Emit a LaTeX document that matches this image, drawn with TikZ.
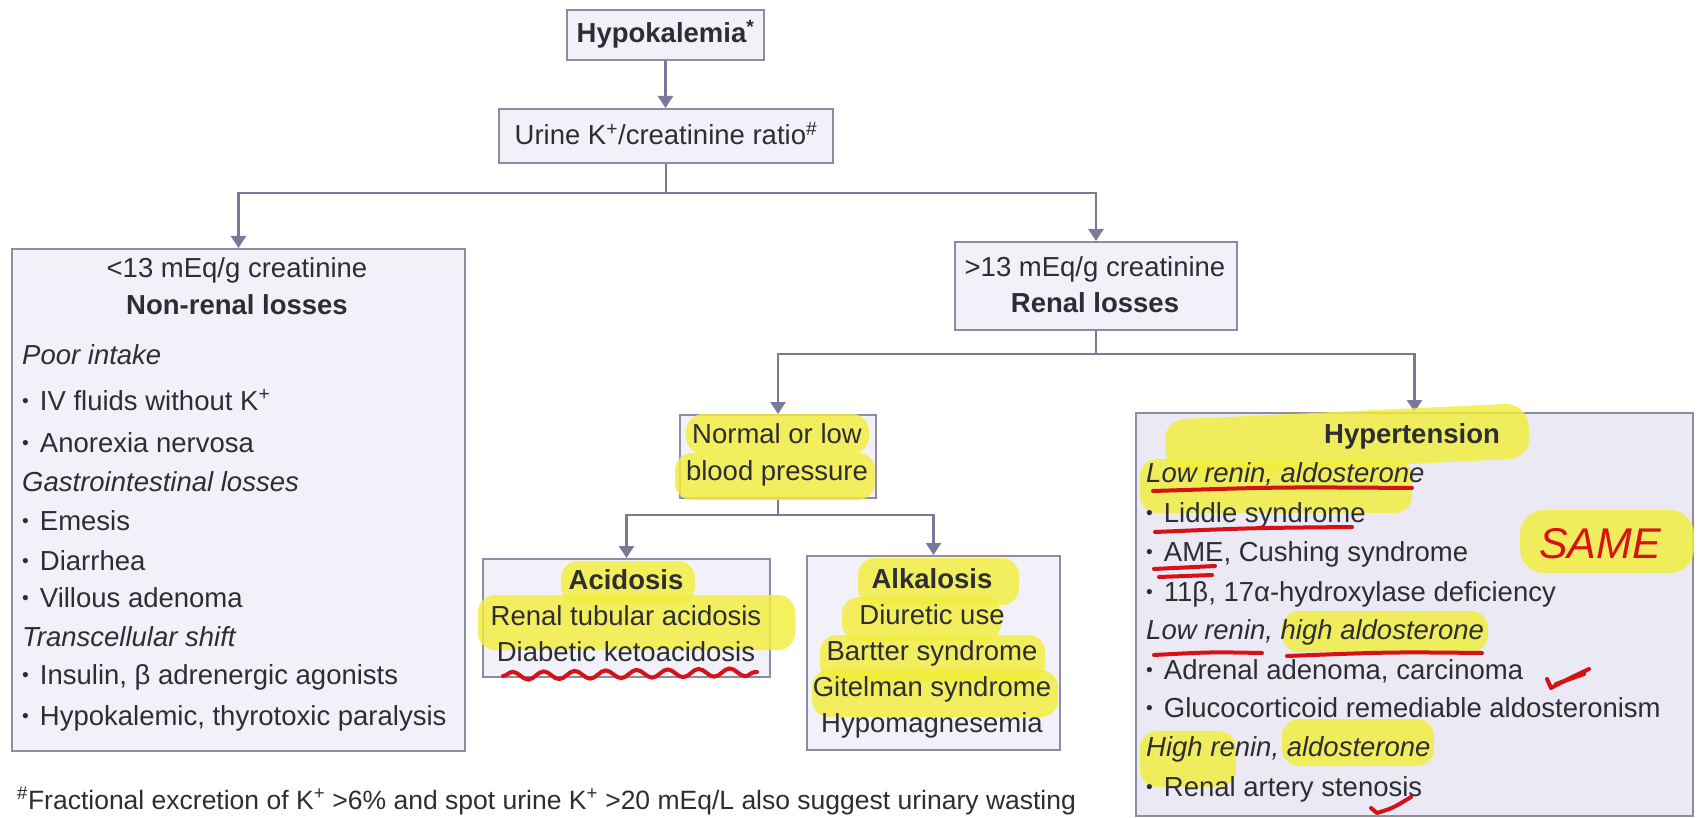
\documentclass[tikz,border=0pt]{standalone}
\usepackage{fontspec}
\setmainfont{Liberation Sans}
\usetikzlibrary{arrows.meta,decorations.pathmorphing}

\definecolor{boxline}{RGB}{140,140,162}
\definecolor{boxfill}{RGB}{242,240,248}
\definecolor{hyfill}{RGB}{235,233,243}
\definecolor{linkcol}{RGB}{122,122,152}
\definecolor{ink}{RGB}{45,45,52}
\definecolor{marker}{RGB}{242,238,60}
\definecolor{pen}{RGB}{214,18,22}

% small list bullet
\newcommand{\dotitem}{\raisebox{2.5pt}{\scalebox{0.7}{•}}\hspace{11pt}}

\begin{document}
\begin{tikzpicture}[x=1pt,y=-1pt,
  box/.style={draw=boxline, fill=boxfill, line width=2pt, inner sep=0pt, anchor=north west},
  link/.style={draw=linkcol, line width=2.6pt},
  conn/.style={link, -{Triangle[width=15pt,length=12pt]}},
  txt/.style={inner sep=0pt, text=ink, font=\fontsize{27.5}{33}\selectfont},
  head/.style={txt, font=\fontsize{27.5}{33}\selectfont\bfseries},
  hl/.style={fill=marker, opacity=0.82, rounded corners=17pt},
  penline/.style={draw=pen, line width=4pt, line cap=round, line join=round}
]
\fill[white] (0,0) rectangle (1703,818);
\useasboundingbox (0,0) rectangle (1703,818);

% ---------- boxes ----------
\node[box, minimum width=197pt, minimum height=50pt] (hypo) at (566,9) {};
\node[box, minimum width=334pt, minimum height=54pt] (urine) at (498,108) {};
\node[box, minimum width=453pt, minimum height=502pt] (nonrenal) at (11,248) {};
\node[box, minimum width=282pt, minimum height=88pt] (renal) at (954,241) {};
\node[box, minimum width=196pt, minimum height=83pt] (normal) at (679,414) {};
\node[box, minimum width=557pt, minimum height=403pt, fill=hyfill] (hyper) at (1135,412) {};
\node[box, minimum width=287pt, minimum height=118pt] (acid) at (482,558) {};
\node[box, minimum width=253pt, minimum height=194pt] (alk) at (806,555) {};

% ---------- connectors ----------
\coordinate (j1) at (urine.south |- 0,193);
\coordinate (j2) at (renal.south |- 0,354);
\coordinate (j3) at (normal.south |- 0,515);
\draw[conn] (hypo.south) -- (hypo.south |- urine.north);
\draw[link] (urine.south) -- (j1);
\draw[conn] (j1) -| (nonrenal.north);
\draw[conn] (j1) -| (renal.north);
\draw[link] (renal.south) -- (j2);
\draw[conn] (j2) -| (normal.north);
\draw[conn] (j2) -| (hyper.north);
\draw[link] (normal.south) -- (j3);
\draw[conn] (j3) -| (acid.north);
\draw[conn] (j3) -| (alk.north);

% ---------- highlighter marks ----------
\fill[hl] (686,414) rectangle (869,454);
\fill[hl] (675,453) rectangle (875,500);
\fill[hl] (561,561) rectangle (695,603);
\fill[hl] (478,595) rectangle (795,650);
\fill[hl] (858,558) rectangle (1019,605);
\fill[hl] (842,597) rectangle (1001,641);
\fill[hl] (820,635) rectangle (1045,682);
\fill[hl] (812,670) rectangle (1058,717);
\fill[hl, rounded corners=22pt] (1163,420) -- (1527,403) -- (1531,458) -- (1168,476) -- cycle;
\fill[hl] (1140,459) rectangle (1412,513);
\fill[hl, rounded corners=24pt] (1520,510) rectangle (1694,573);
\fill[hl] (1282,611) rectangle (1488,652);
\fill[hl] (1140,731) rectangle (1236,787);
\fill[hl] (1282,719) rectangle (1434,766);

% ---------- texts ----------
\node[head, anchor=base] (t0) at (hypo.center |- 0,43) {Hypokalemia\textsuperscript{*}};
\node[txt, anchor=base] (t1) at (urine.center |- 0,145) {Urine K\textsuperscript{+}/creatinine ratio\textsuperscript{\#}};

\node[txt, anchor=base] (n0) at (237,278) {<13 mEq/g creatinine};
\node[head, anchor=base] (n1) at (237,315) {Non-renal losses};
\node[txt, anchor=base west] (n2) at (22,364) {\itshape Poor intake};
\node[txt, anchor=base west] (n3) at (22,410) {\dotitem IV fluids without K\textsuperscript{+}};
\node[txt, anchor=base west] (n4) at (22,452) {\dotitem Anorexia nervosa};
\node[txt, anchor=base west] (n5) at (22,491) {\itshape Gastrointestinal losses};
\node[txt, anchor=base west] (n6) at (22,530) {\dotitem Emesis};
\node[txt, anchor=base west] (n7) at (22,570) {\dotitem Diarrhea};
\node[txt, anchor=base west] (n8) at (22,607) {\dotitem Villous adenoma};
\node[txt, anchor=base west] (n9) at (22,646) {\itshape Transcellular shift};
\node[txt, anchor=base west] (n10) at (22,684) {\dotitem Insulin, β adrenergic agonists};
\node[txt, anchor=base west] (n11) at (22,725) {\dotitem Hypokalemic, thyrotoxic paralysis};

\node[txt, anchor=base] (r0) at (1095,277) {>13 mEq/g creatinine};
\node[head, anchor=base] (r1) at (1095,313) {Renal losses};

\node[txt, anchor=base] (b0) at (777,443) {Normal or low};
\node[txt, anchor=base] (b1) at (777,480) {blood pressure};

\node[head, anchor=base] (a0) at (626,589) {Acidosis};
\node[txt, anchor=base] (a1) at (626,625) {Renal tubular acidosis};
\node[txt, anchor=base] (a2) at (626,661) {Diabetic ketoacidosis};

\node[head, anchor=base] (k0) at (932,588) {Alkalosis};
\node[txt, anchor=base] (k1) at (932,624) {Diuretic use};
\node[txt, anchor=base] (k2) at (932,660) {Bartter syndrome};
\node[txt, anchor=base] (k3) at (932,696) {Gitelman syndrome};
\node[txt, anchor=base] (k4) at (932,732) {Hypomagnesemia};

\node[head, anchor=base] (h0) at (1412,443) {Hypertension};
\node[txt, anchor=base west] (h1) at (1146,482) {\itshape Low renin, aldosterone};
\node[txt, anchor=base west] (h2) at (1146,522) {\dotitem Liddle syndrome};
\node[txt, anchor=base west] (h3) at (1146,561) {\dotitem AME, Cushing syndrome};
\node[txt, anchor=base west] (h4) at (1146,601) {\dotitem 11β, 17α-hydroxylase deficiency};
\node[txt, anchor=base west] (h5) at (1146,639) {\itshape Low renin, high aldosterone};
\node[txt, anchor=base west] (h6) at (1146,679) {\dotitem Adrenal adenoma, carcinoma};
\node[txt, anchor=base west] (h7) at (1146,717) {\dotitem Glucocorticoid remediable aldosteronism};
\node[txt, anchor=base west] (h8) at (1146,756) {\itshape High renin, aldosterone};
\node[txt, anchor=base west] (h9) at (1146,796) {\dotitem Renal artery stenosis};

\node[txt, anchor=base west, font=\fontsize{26.5}{32}\selectfont] (foot) at (17,809) {\textsuperscript{\#}Fractional excretion of K\textsuperscript{+} >6\% and spot urine K\textsuperscript{+} >20 mEq/L also suggest urinary wasting};

% ---------- pen marks ----------
\draw[penline, decorate, decoration={snake, amplitude=4pt, segment length=31pt}] (503,676) -- (757,672);
\draw[penline] (1153,491) .. controls (1280,487) .. (1412,488);
\draw[penline] (1155,532) .. controls (1250,528) .. (1352,527);
\draw[penline] (1154,569) -- (1215,566);
\draw[penline] (1159,577) -- (1212,575);
\draw[penline] (1154,655) .. controls (1210,652) .. (1262,653);
\draw[penline] (1287,656) .. controls (1390,652) .. (1482,653);
\draw[penline] (1547,679) -- (1551,688) .. controls (1566,680) .. (1589,669);
\draw[penline] (1556,684) -- (1584,674);
\draw[penline] (1371,808) -- (1377,813) .. controls (1393,808) .. (1411,797);
\node[inner sep=0pt, text=pen, font=\fontsize{43}{43}\selectfont\itshape] (same) at (1600,544) {SAME};

\end{tikzpicture}
\end{document}
